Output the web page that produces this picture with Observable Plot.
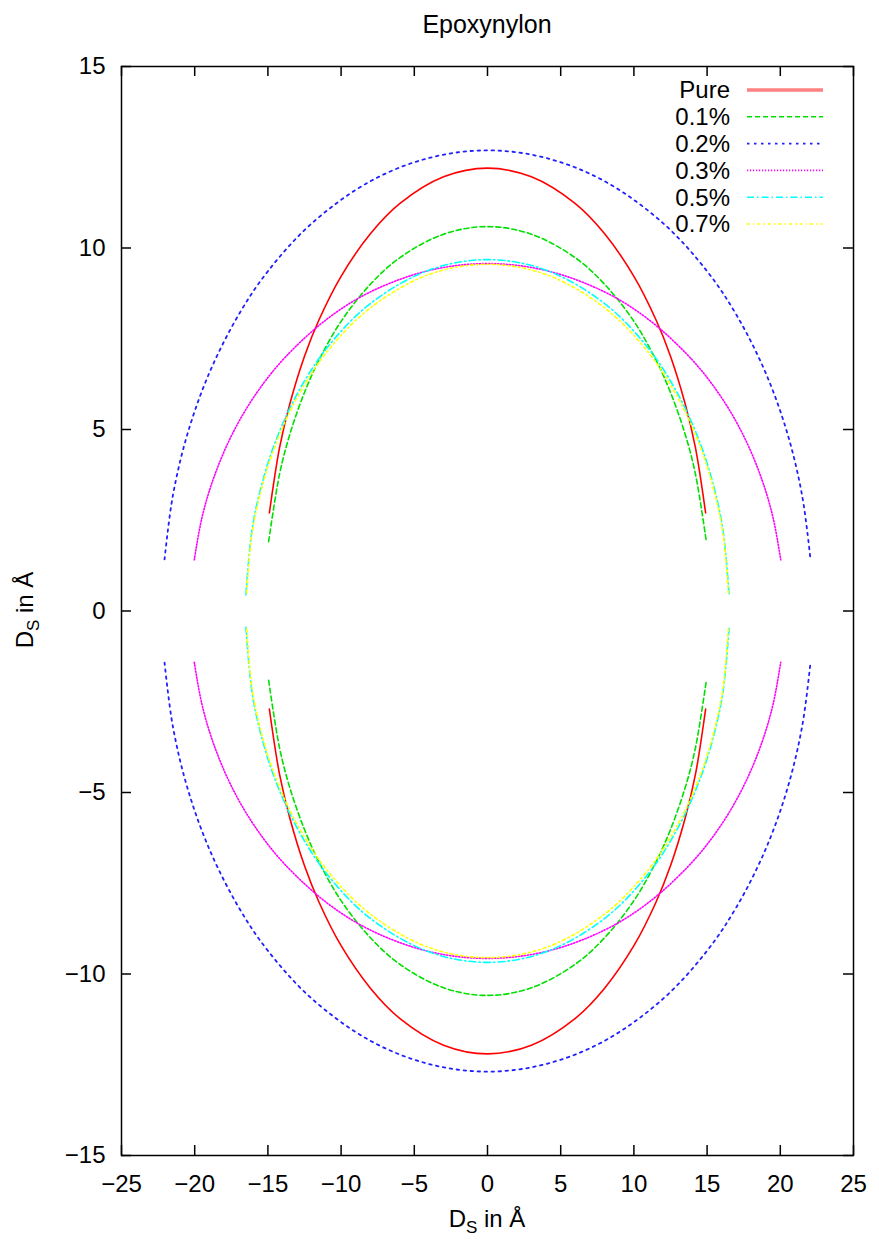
<!DOCTYPE html>
<html><head><meta charset="utf-8">
<script src="https://cdn.jsdelivr.net/npm/d3@7"></script>
<script src="https://cdn.jsdelivr.net/npm/@observablehq/plot@0.6"></script>
<style>
body{margin:0;background:#fff;}
#chart{position:relative;width:879px;height:1241px;}
</style>
</head><body><div id="chart"></div>
<script>
// ---- data ----
const seriesNames  = ["Pure", "0.1%", "0.2%", "0.3%", "0.5%", "0.7%"];
const seriesColors = ["#ff0000", "#00e000", "#2020ff", "#ff00ff", "#00ffff", "#ffff00"];
const seriesDashes = ["none", "5,3", "2.5,4.5", "1.2,1.8", "7,3,1.5,3", "3,3,1.5,3"];
const seriesWidths = [1.6, 1.6, 1.8, 1.6, 1.6, 1.6];

const pureX      = [-14.9,-14.2,-13.5,-12.5,-11.5,-10,-8,-6,-3,0,3,6,8,10,11.5,12.5,13.5,14.2,14.9];
const pureTop    = [2.70,4.51,5.71,7.02,8.03,9.22,10.39,11.22,11.96,12.20,11.96,11.22,10.39,9.22,8.03,7.02,5.71,4.51,2.70];
const pureBottom = [-2.70,-4.51,-5.71,-7.02,-8.03,-9.22,-10.39,-11.22,-11.96,-12.20,-11.96,-11.22,-10.39,-9.22,-8.03,-7.02,-5.71,-4.51,-2.70];

const p01X      = [-14.95,-14.2,-13.5,-12.5,-11.5,-10,-8,-6,-3,0,3,6,8,10,11.5,12.5,13.5,14.2,14.95];
const p01Top    = [1.91,3.78,4.87,6.02,6.92,7.98,9.00,9.73,10.38,10.59,10.38,9.73,9.00,7.98,6.92,6.02,4.87,3.78,1.91];
const p01Bottom = [-1.91,-3.78,-4.87,-6.02,-6.92,-7.98,-9.00,-9.73,-10.38,-10.59,-10.38,-9.73,-9.00,-7.98,-6.92,-6.02,-4.87,-3.78,-1.91];

const p02X      = [-22.06,-21.5,-20.5,-19,-17,-15,-12,-8,-4,0,4,8,12,15,17,19,20.5,21.5,22.06];
const p02Top    = [1.42,3.16,4.87,6.56,8.16,9.36,10.68,11.84,12.48,12.69,12.48,11.84,10.68,9.36,8.16,6.56,4.87,3.16,1.42];
const p02Bottom = [-1.42,-3.16,-4.87,-6.56,-8.16,-9.36,-10.68,-11.84,-12.48,-12.69,-12.48,-11.84,-10.68,-9.36,-8.16,-6.56,-4.87,-3.16,-1.42];

const p03X      = [-20.03,-19.5,-18.7,-17.5,-16,-14,-11,-8,-4,0,4,8,11,14,16,17.5,18.7,19.5,20.03];
const p03Top    = [1.41,2.58,3.67,4.82,5.87,6.91,8.03,8.79,9.38,9.57,9.38,8.79,8.03,6.91,5.87,4.82,3.67,2.58,1.41];
const p03Bottom = [-1.41,-2.58,-3.67,-4.82,-5.87,-6.91,-8.03,-8.79,-9.38,-9.57,-9.38,-8.79,-8.03,-6.91,-5.87,-4.82,-3.67,-2.58,-1.41];

const p05X      = [-16.5,-16.1,-15.5,-14.5,-13,-11,-8,-4,0,4,8,11,13,14.5,15.5,16.1,16.5];
const p05Top    = [0.45,2.19,3.36,4.65,5.98,7.23,8.47,9.39,9.68,9.39,8.47,7.23,5.98,4.65,3.36,2.19,0.45];
const p05Bottom = [-0.45,-2.19,-3.36,-4.65,-5.98,-7.23,-8.47,-9.39,-9.68,-9.39,-8.47,-7.23,-5.98,-4.65,-3.36,-2.19,-0.45];

const p07X      = [-16.45,-16.1,-15.5,-14.5,-13,-11,-8,-4,0,4,8,11,13,14.5,15.5,16.1,16.45];
const p07Top    = [0.50,2.09,3.27,4.56,5.88,7.12,8.35,9.27,9.55,9.27,8.35,7.12,5.88,4.56,3.27,2.09,0.50];
const p07Bottom = [-0.50,-2.09,-3.27,-4.56,-5.88,-7.12,-8.35,-9.27,-9.55,-9.27,-8.35,-7.12,-5.88,-4.56,-3.27,-2.09,-0.50];

const xTicks = [-25,-20,-15,-10,-5,0,5,10,15,20,25];
const yTicks = [-15,-10,-5,0,5,10,15];

// ---- build table ----
const seriesData = [
  [pureX, pureTop, pureBottom],
  [p01X, p01Top, p01Bottom],
  [p02X, p02Top, p02Bottom],
  [p03X, p03Top, p03Bottom],
  [p05X, p05Top, p05Bottom],
  [p07X, p07Top, p07Bottom]
];
const rows = [];
seriesData.forEach(([xs, top, bot], i) => {
  xs.forEach((x, j) => rows.push({series: seriesNames[i], part: "top", x, y: top[j]}));
  xs.forEach((x, j) => rows.push({series: seriesNames[i], part: "bottom", x, y: bot[j]}));
});

const W = 879, H = 1241, mL = 121, mR = 26, mT = 66, mB = 86;
const plotW = W - mL - mR, plotH = H - mT - mB, tick = 10;
const fmt = d => d < 0 ? "\u2212" + (-d) : String(d);

const lineMarks = seriesNames.map((name, i) =>
  Plot.line(rows.filter(r => r.series === name), {
    x: "x", y: "y", z: "part", curve: "catmull-rom",
    stroke: seriesColors[i], strokeWidth: seriesWidths[i],
    strokeDasharray: seriesDashes[i] === "none" ? null : seriesDashes[i]
  })
);

const chart = Plot.plot({
  width: W, height: H,
  marginLeft: mL, marginRight: mR, marginTop: mT, marginBottom: mB,
  style: {fontFamily: "'Liberation Sans', Arial, sans-serif", fontSize: "24px", background: "#fff", color: "#000"},
  x: {domain: [-25, 25], label: null},
  y: {domain: [-15, 15], label: null},
  marks: [
    ...lineMarks,
    Plot.ruleX(xTicks, {insetTop: plotH - tick, stroke: "#000", strokeWidth: 1.5}),
    Plot.ruleX(xTicks, {insetBottom: plotH - tick, stroke: "#000", strokeWidth: 1.5}),
    Plot.ruleY(yTicks, {insetRight: plotW - tick, stroke: "#000", strokeWidth: 1.5}),
    Plot.ruleY(yTicks, {insetLeft: plotW - tick, stroke: "#000", strokeWidth: 1.5}),
    Plot.frame({stroke: "#000", strokeWidth: 1.5}),
    Plot.axisX(xTicks, {tickSize: 0, tickPadding: 19, tickFormat: fmt, fontSize: 24, label: null}),
    Plot.axisY(yTicks, {tickSize: 0, tickPadding: 16, tickFormat: fmt, fontSize: 24, label: null})
  ]
});

document.getElementById("chart").appendChild(chart);

// ---- titles, axis labels and legend ----
const svg = d3.select(chart);
const ff = "'Liberation Sans', Arial, sans-serif";
svg.append("text").attr("x", 487).attr("y", 33).attr("text-anchor", "middle")
  .attr("font-family", ff).attr("font-size", 25).attr("fill", "#000").text("Epoxynylon");

const xl = svg.append("text").attr("x", 487).attr("y", 1227).attr("text-anchor", "middle")
  .attr("font-family", ff).attr("font-size", 24).attr("fill", "#000");
xl.append("tspan").text("D");
xl.append("tspan").attr("font-size", 17).attr("dy", 6).text("S");
xl.append("tspan").attr("dy", -6).text(" in Å");

const yl = svg.append("text").attr("transform", "translate(33,610) rotate(-90)").attr("text-anchor", "middle")
  .attr("font-family", ff).attr("font-size", 24).attr("fill", "#000");
yl.append("tspan").text("D");
yl.append("tspan").attr("font-size", 17).attr("dy", 6).text("S");
yl.append("tspan").attr("dy", -6).text(" in Å");

const leg = svg.append("g");
seriesNames.forEach((name, i) => {
  const cy = 90 + i * 26.8;
  leg.append("text").attr("x", 730).attr("y", cy).attr("dy", "0.35em").attr("text-anchor", "end")
    .attr("font-family", ff).attr("font-size", 24).attr("fill", "#000").text(name);
  leg.append("line").attr("x1", 747).attr("x2", 823).attr("y1", cy).attr("y2", cy)
    .attr("stroke", i === 0 ? "#ff8080" : seriesColors[i]).attr("stroke-width", i === 0 ? 3.5 : seriesWidths[i])
    .attr("stroke-dasharray", seriesDashes[i] === "none" ? null : seriesDashes[i]);
});
</script>
</body></html>
